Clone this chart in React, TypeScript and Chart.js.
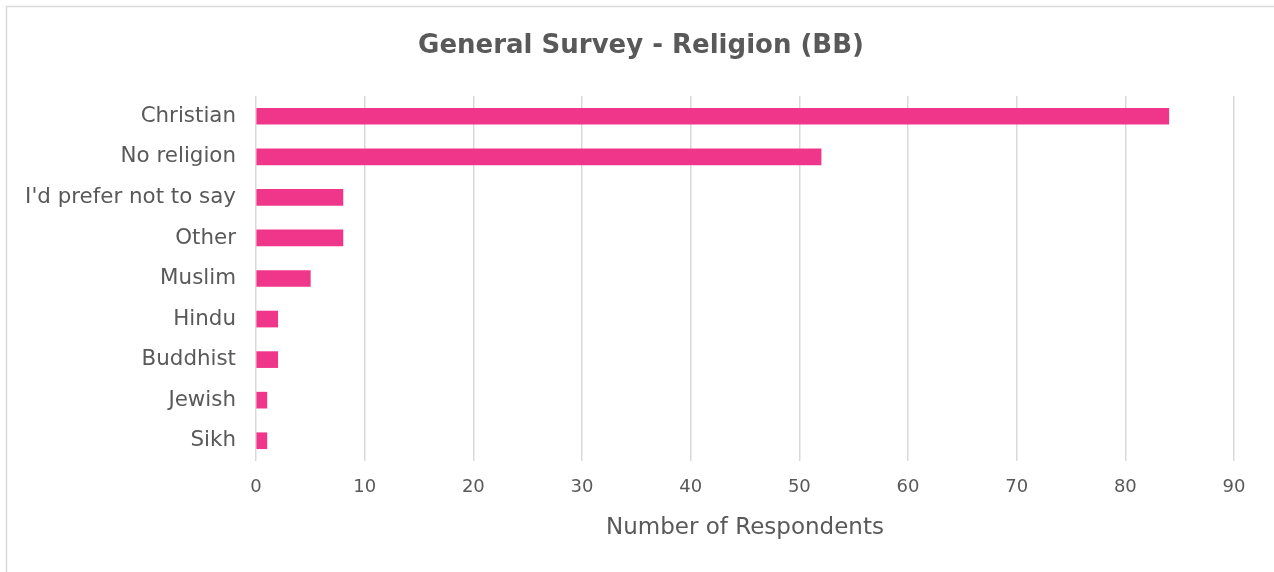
import React, { useEffect, useRef } from "react";
import { Chart, registerables } from "chart.js";

Chart.register(...registerables);

const categories = [
  "Christian",
  "No religion",
  "I'd prefer not to say",
  "Other",
  "Muslim",
  "Hindu",
  "Buddhist",
  "Jewish",
  "Sikh",
];
const respondents = [84, 52, 8, 8, 5, 2, 2, 1, 1];
const xMin = 0;
const xMax = 90;
const xStep = 10;
const chartTitle = "General Survey - Religion (BB)";
const axisTitle = "Number of Respondents";

const FONT = "'DejaVu Sans', sans-serif";
const TEXT = "#595959";

const borderPlugin = {
  id: "outerBorder",
  beforeDraw(chart: any) {
    const ctx = chart.ctx;
    ctx.save();
    ctx.fillStyle = "#ffffff";
    ctx.fillRect(0, 0, chart.width, chart.height);
    ctx.strokeStyle = "#d9d9d9";
    ctx.lineWidth = 1.5;
    ctx.strokeRect(6.5, 6.5, 1300, 600);
    ctx.restore();
  },
  afterDraw(chart: any) {
    const ctx = chart.ctx;
    ctx.save();
    ctx.fillStyle = TEXT;
    ctx.font = `bold 26px ${FONT}`;
    ctx.textAlign = "center";
    ctx.textBaseline = "middle";
    ctx.fillText(chartTitle, 641, 46);
    ctx.restore();
  },
};

export default function App() {
  const ref = useRef<HTMLCanvasElement>(null);
  useEffect(() => {
    document.body.style.margin = "0";
    const chart = new Chart(ref.current!, {
      type: "bar",
      data: {
        labels: categories,
        datasets: [
          {
            label: axisTitle,
            data: respondents,
            backgroundColor: "#F0368A",
            borderWidth: 0,
            barThickness: 16,
          },
        ],
      },
      plugins: [borderPlugin],
      options: {
        indexAxis: "y",
        responsive: false,
        animation: false,
        layout: { padding: { left: 0, right: 40, top: 96, bottom: 0 } },
        plugins: {
          legend: { display: false },
          tooltip: { enabled: false },
          title: { display: false },
        },
        scales: {
          x: {
            min: xMin,
            max: xMax,
            ticks: {
              stepSize: xStep,
              color: TEXT,
              font: { family: FONT, size: 18 },
              padding: 16,
            },
            grid: { color: "#d9d9d9", lineWidth: 1.5, drawTicks: false },
            border: { display: false },
            title: {
              display: true,
              text: axisTitle,
              color: TEXT,
              font: { family: FONT, size: 23 },
              padding: { top: 10, bottom: 30 },
            },
            afterFit(scale: any) {
              scale.height = 111;
            },
          },
          y: {
            ticks: {
              color: TEXT,
              font: { family: FONT, size: 21.4 },
              padding: 20,
            },
            grid: { display: false, drawTicks: false },
            border: { display: false },
            afterFit(scale: any) {
              scale.width = 256;
            },
          },
        },
      },
    });
    return () => chart.destroy();
  }, []);
  return (
    <div style={{ width: 1274, height: 572 }}>
      <canvas ref={ref} width={1274} height={572} />
    </div>
  );
}
